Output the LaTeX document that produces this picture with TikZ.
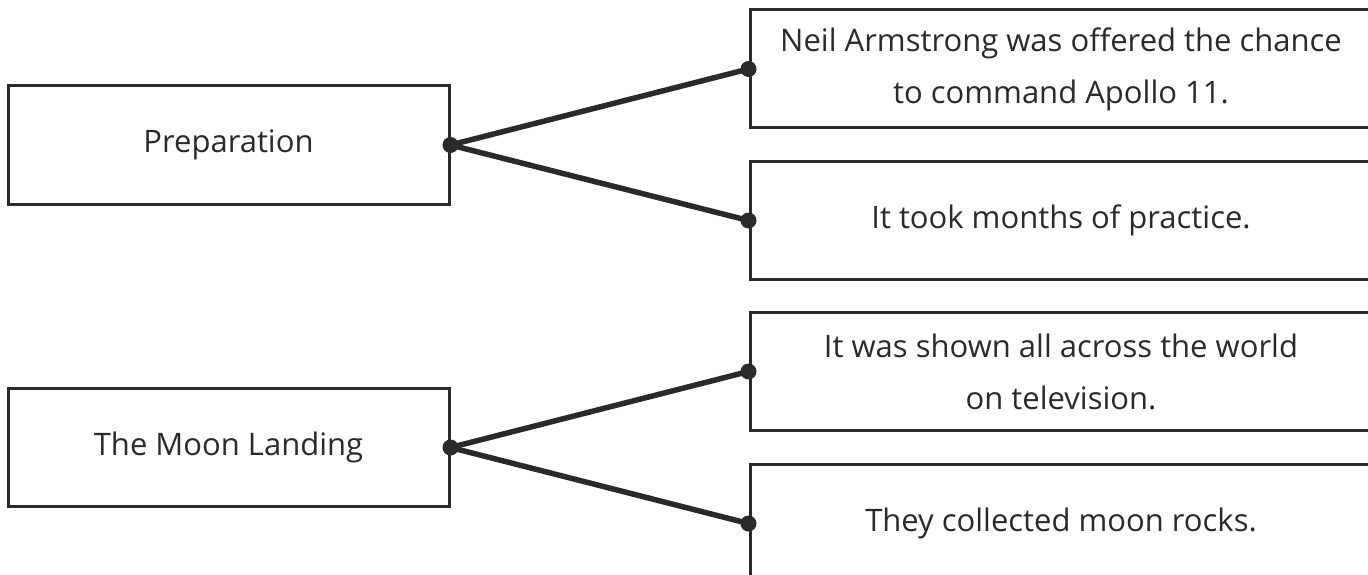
\documentclass[tikz,border=0pt]{standalone}
\usepackage{fontspec}
\setmainfont{Open Sans}
\definecolor{ink}{HTML}{2A2A2A}

\begin{document}
\begin{tikzpicture}[x=1pt,y=-1pt]

        \useasboundingbox (0,0) rectangle (1368,575);
        \clip (0,0) rectangle (1368,575);

        \begin{scope}[every node/.style={draw=ink, line width=3pt, text=ink, align=center,
            minimum height=118pt, inner sep=0pt, font=\fontsize{31}{52}\selectfont}]
          \node[minimum width=441pt] (prep) at (228.5,145) {Preparation};
          \node[minimum width=441pt] (moon) at (228.5,447.5) {The Moon Landing};
          \node[minimum width=622pt] (a) at (1061,69) {Neil Armstrong was offered the chance\\to command Apollo 11.};
          \node[minimum width=622pt] (b) at (1061,220.5) {It took months of practice.};
          \node[minimum width=622pt] (c) at (1061,371.5) {It was shown all across the world\\on television.};
          \node[minimum width=622pt] (d) at (1061,523.5) {They collected moon rocks.};
        \end{scope}

        \begin{scope}[every edge/.style={draw=ink, line width=5.5pt}]
          \path (prep.east) edge (a.west);
          \path (prep.east) edge (b.west);
          \path (moon.east) edge (c.west);
          \path (moon.east) edge (d.west);
        \end{scope}

        \foreach \n in {prep.east,moon.east,a.west,b.west,c.west,d.west}
          \fill[ink] (\n) circle (8pt);

      \end{tikzpicture}
\end{document}
